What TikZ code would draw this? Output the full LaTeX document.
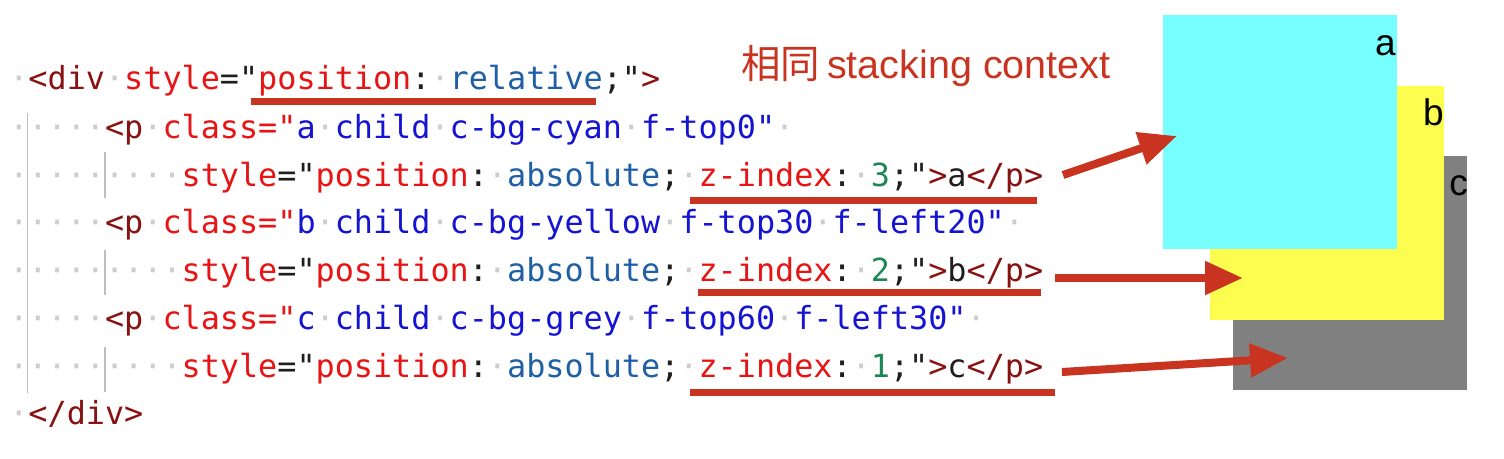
\documentclass[tikz,border=0pt]{standalone}
\usepackage{fontspec}
\usetikzlibrary{arrows.meta}
\newfontfamily\codefont{DejaVu Sans Mono}
\newfontfamily\labfont{Liberation Sans}
\newfontfamily\cjkfont{Noto Sans CJK SC}
\definecolor{tagc}{RGB}{136,18,18}
\definecolor{attrc}{RGB}{232,20,20}
\definecolor{clsblue}{RGB}{20,20,210}
\definecolor{cssblue}{RGB}{30,95,165}
\definecolor{numgreen}{RGB}{28,135,85}
\definecolor{txtblk}{RGB}{30,30,30}
\definecolor{wsgray}{RGB}{205,205,205}
\definecolor{guidegray}{RGB}{190,190,190}
\definecolor{annot}{RGB}{200,52,32}
\definecolor{boxcyan}{RGB}{119,254,254}
\definecolor{boxyellow}{RGB}{253,253,80}
\definecolor{boxgray}{RGB}{128,128,128}
\newcommand\ws{\textcolor{wsgray}{·}}
\newcommand\tg[1]{\textcolor{tagc}{#1}}
\newcommand\at[1]{\textcolor{attrc}{#1}}
\newcommand\bl[1]{\textcolor{clsblue}{#1}}
\newcommand\cs[1]{\textcolor{cssblue}{#1}}
\newcommand\gn[1]{\textcolor{numgreen}{#1}}
\newcommand\bk[1]{\textcolor{txtblk}{#1}}
\begin{document}
\begin{tikzpicture}[x=1pt,y=-1pt,
  codeline/.style={anchor=base west,inner sep=0pt,outer sep=0pt,font=\codefont\fontsize{31.8pt}{38pt}\selectfont},
  guide/.style={draw=guidegray,line width=1.5pt},
  uline/.style={draw=annot,line width=7pt},
  ptr/.style={draw=annot,line width=8pt,-{Triangle[length=38pt,width=32pt]}},
  sbox/.style={draw=none,inner sep=0pt,minimum width=234pt,minimum height=234pt},
  boxlabel/.style={anchor=base east,inner sep=0pt,font=\labfont\fontsize{37pt}{40pt}\selectfont}]
\useasboundingbox (0,0) rectangle (1504,458);
\fill[white] (0,0) rectangle (1504,458);

% code lines
\node[codeline] (l1) at (9.35,89) {\ws\tg{<div}\ws\at{style}\bk{="}\at{position}\bk{:}\ws\cs{relative}\bk{;"}\tg{>}};
\node[codeline] (l2) at (9.35,138) {\ws\ws\ws\ws\ws\tg{<p}\ws\at{class="}\bl{a}\ws\bl{child}\ws\bl{c-bg-cyan}\ws\bl{f-top0"}\ws};
\node[codeline] (l3) at (9.35,186) {\ws\ws\ws\ws\ws\ws\ws\ws\ws\at{style}\bk{="}\at{position}\bk{:}\ws\cs{absolute}\bk{;}\ws\at{z-index}\bk{:}\ws\gn{3}\bk{;"}\tg{>}\bk{a}\tg{</p>}};
\node[codeline] (l4) at (9.35,233) {\ws\ws\ws\ws\ws\tg{<p}\ws\at{class="}\bl{b}\ws\bl{child}\ws\bl{c-bg-yellow}\ws\bl{f-top30}\ws\bl{f-left20"}\ws};
\node[codeline] (l5) at (9.35,281) {\ws\ws\ws\ws\ws\ws\ws\ws\ws\at{style}\bk{="}\at{position}\bk{:}\ws\cs{absolute}\bk{;}\ws\at{z-index}\bk{:}\ws\gn{2}\bk{;"}\tg{>}\bk{b}\tg{</p>}};
\node[codeline] (l6) at (9.35,329) {\ws\ws\ws\ws\ws\tg{<p}\ws\at{class="}\bl{c}\ws\bl{child}\ws\bl{c-bg-grey}\ws\bl{f-top60}\ws\bl{f-left30"}\ws};
\node[codeline] (l7) at (9.35,377) {\ws\ws\ws\ws\ws\ws\ws\ws\ws\at{style}\bk{="}\at{position}\bk{:}\ws\cs{absolute}\bk{;}\ws\at{z-index}\bk{:}\ws\gn{1}\bk{;"}\tg{>}\bk{c}\tg{</p>}};
\node[codeline] (l8) at (9.35,424) {\ws\tg{</div>}};

% indent guides
\draw[guide] (27.5,113) -- (27.5,393);
\draw[guide] (105,152) -- (105,198);
\draw[guide] (105,250) -- (105,295);
\draw[guide] (105,347) -- (105,392);

% underlines
\draw[uline] (251,101) -- (596,101);
\draw[uline] (690,200) -- (1037,200);
\draw[uline] (698,292) -- (1041,292);
\draw[uline] (690,392) -- (1055,392);

% title
\node[anchor=base west,inner sep=0pt,text=annot] (title) at (741,78)
  {\fontsize{39.5pt}{44pt}\selectfont{\cjkfont 相同}\hspace{7pt}{\labfont stacking context}};

% boxes
\node[sbox,fill=boxgray] (boxc) at (1350,272.5) {};
\node[boxlabel] (labc) at (1468,195) {c};
\node[sbox,fill=boxyellow] (boxb) at (1327,202.5) {};
\node[boxlabel] (labb) at (1444,125) {b};
\node[sbox,fill=boxcyan] (boxa) at (1280,132) {};
\node[boxlabel] (laba) at (1396,55) {a};

% arrows
\coordinate (sa) at (1063,175);
\coordinate (ta) at (1177,136);
\coordinate (sb) at (1055,278);
\coordinate (tb) at (1243,278);
\coordinate (sc) at (1062,372);
\coordinate (tc) at (1288,358);
\draw[ptr] (sa) -- (ta);
\draw[ptr] (sb) -- (tb);
\draw[ptr] (sc) -- (tc);
\end{tikzpicture}
\end{document}
